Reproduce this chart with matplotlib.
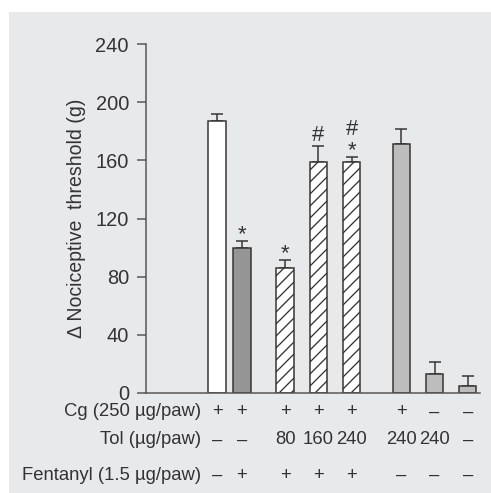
import matplotlib
matplotlib.use('Agg')
import matplotlib.pyplot as plt
from matplotlib.patches import Rectangle

# data
values = [187, 100, 86, 159, 159, 171, 13, 5]
errors = [5, 4.5, 5.5, 11, 3, 10.5, 8.5, 6.5]
fills = ['#ffffff', '#959595', '#ffffff', '#ffffff', '#ffffff', '#bdbdbd', '#bdbdbd', '#bdbdbd']
hatches = [None, None, '//', '//', '//', None, None, None]
marks = [[], ['*'], ['*'], ['#'], ['*', '#'], [], [], []]
positions = [0, 0.75, 2.05, 3.05, 4.05, 5.55, 6.55, 7.55]

row_labels = ['Cg (250 µg/paw)', 'Tol (µg/paw)', 'Fentanyl (1.5 µg/paw)']
cg_row = ['+', '+', '+', '+', '+', '+', '–', '–']
tol_row = ['–', '–', '80', '160', '240', '240', '240', '–']
fent_row = ['–', '+', '+', '+', '+', '–', '–', '–']
yticks = [0, 40, 80, 120, 160, 200, 240]

plt.rcParams['font.family'] = ['Liberation Sans', 'DejaVu Sans']
plt.rcParams['hatch.linewidth'] = 1.3
plt.rcParams['hatch.color'] = '#2a2a2a'

DPI = 72
fig = plt.figure(figsize=(491 / DPI, 493 / DPI), dpi=DPI, facecolor='white')
fig.patches.append(Rectangle((9 / 491, 0), 1, 481 / 493, transform=fig.transFigure,
                             facecolor='#e8e9eb', edgecolor='none', zorder=-10))

ax = fig.add_axes([146 / 491, 100 / 493, 334 / 491, 349 / 493])
ax.set_facecolor('none')

for x, v, e, c, h in zip(positions, values, errors, fills, hatches):
    ax.bar(x, v, width=0.52, color=c, edgecolor='#333333', linewidth=1.5,
           hatch=h, zorder=2)
    ax.errorbar(x, v, yerr=[[0], [e]], fmt='none', ecolor='#333333',
                elinewidth=1.5, capsize=6, capthick=1.5, zorder=1)

# significance marks stacked above the error bars (baseline offsets in px)
for x, v, e, m in zip(positions, values, errors, marks):
    for i, s in enumerate(m):
        off = 1 if s == '*' else 5
        if i > 0:
            off = 22
        ax.annotate(s, (x, v + e), xytext=(0, off), textcoords='offset points',
                    ha='center', va='baseline', fontsize=22, color='#333333')

ax.set_xlim(-2.14, 7.92)
ax.set_ylim(0, 240)
ax.set_yticks(yticks)
ax.set_xticks([])
for s in ['top', 'right']:
    ax.spines[s].set_visible(False)
for s in ['left', 'bottom']:
    ax.spines[s].set_color('#555555')
    ax.spines[s].set_linewidth(1.5)
ax.tick_params(axis='y', direction='out', length=9, width=1.5, color='#555555',
               labelsize=20, labelcolor='#333333', pad=8)
ax.set_ylabel('Δ Nociceptive  threshold (g)', fontsize=19.5, color='#333333', labelpad=9)

# treatment table below the axis
rows = [cg_row, tol_row, fent_row]
row_y = [412, 440, 475]
for label, row, py in zip(row_labels, rows, row_y):
    yy = (493 - py) / 493
    fig.text(201 / 491, yy, label, ha='right', va='center', fontsize=18.5, color='#333333')
    for x, s in zip(positions, row):
        fx = fig.transFigure.inverted().transform(ax.transData.transform((x, 0)))[0]
        fig.text(fx, yy, s, ha='center', va='center', fontsize=18.5, color='#333333')

fig.savefig('out.png', dpi=DPI, facecolor='white')
